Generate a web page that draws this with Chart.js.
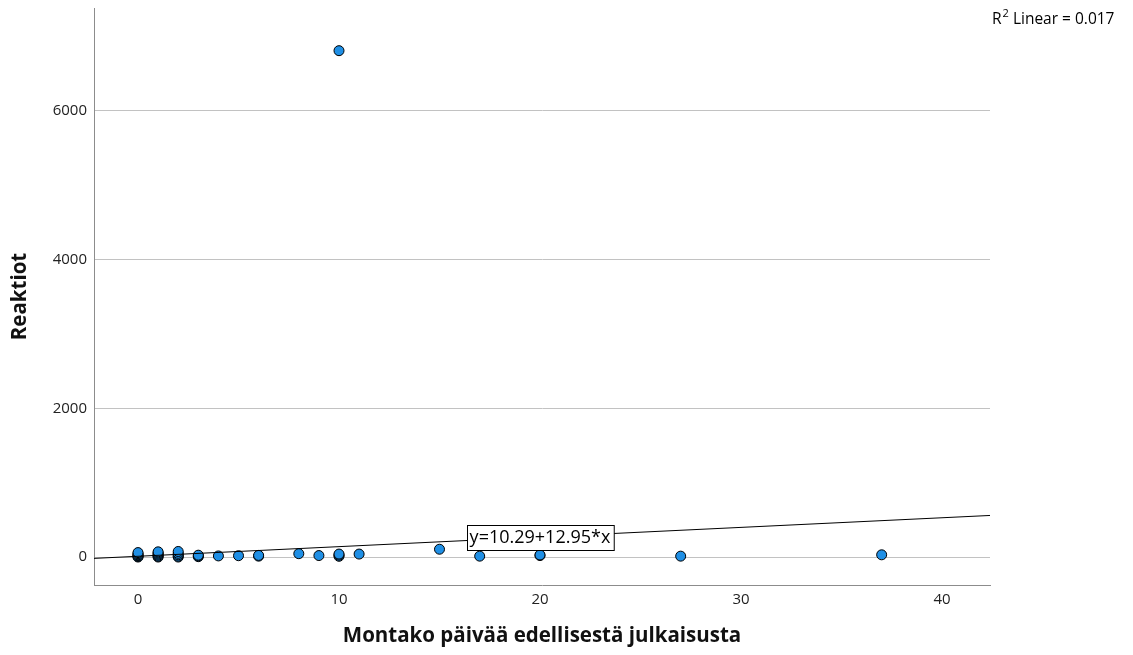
<!DOCTYPE html>
<html>
<head>
<meta charset="utf-8">
<script src="https://cdn.jsdelivr.net/npm/chart.js@4"></script>
<style>
  html, body { margin: 0; padding: 0; background: #ffffff; }
  canvas { display: block; }
</style>
</head>
<body>
<canvas id="chart" width="1133" height="655"></canvas>
<script>
// Days since previous post vs. reactions per post
const days      = [0, 0, 0, 0, 0, 0,  1, 1, 1, 1, 1, 1,  2, 2, 2, 2, 2,  3, 3, 3,  4,  5,  6, 6,  8,  9,  10, 10, 10, 10,  11,  15,  17,  20, 20,  27,  37];
const reactions = [0, 8, 18, 30, 45, 60,  0, 10, 25, 40, 55, 70,  0, 12, 30, 50, 75,  5, 15, 25,  15,  18,  12, 22,  45,  20,  10, 25, 40, 6810,  40,  105,  12,  20, 28,  12,  30];

// Linear fit reported for the data
const fitIntercept = 10.29;
const fitSlope = 12.95;
const rSquared = 0.017;

const xTicks = [0, 10, 20, 30, 40];
const yTicks = [0, 2000, 4000, 6000];
const xRange = [-2.19, 42.39];
const yRange = [-376, 7384];

const xTitle = 'Montako päivää edellisestä julkaisusta';
const yTitle = 'Reaktiot';

const fitAt = x => fitIntercept + fitSlope * x;

const points = days.map((d, i) => ({ x: d, y: reactions[i] }));
const fitLine = xRange.map(x => ({ x: x, y: fitAt(x) }));

const annotations = {
  id: 'fitAnnotations',
  afterDatasetsDraw(chart) {
    const { ctx, scales } = chart;
    // equation box on the fit line
    const label = 'y=' + fitIntercept.toFixed(2) + '+' + fitSlope.toFixed(2) + '*x';
    const cx = scales.x.getPixelForValue(20);
    const cy = scales.y.getPixelForValue(fitAt(20));
    ctx.save();
    ctx.font = '18px "Open Sans", sans-serif';
    const w = ctx.measureText(label).width;
    const boxW = w + 6, boxH = 25;
    const bx = Math.round(cx - boxW / 2) + 0.5, by = Math.round(cy - boxH / 2) + 0.5;
    ctx.fillStyle = '#ffffff';
    ctx.fillRect(bx, by, boxW, boxH);
    ctx.strokeStyle = '#000000';
    ctx.lineWidth = 1;
    ctx.strokeRect(bx, by, boxW, boxH);
    ctx.fillStyle = '#000000';
    ctx.textAlign = 'center';
    ctx.textBaseline = 'middle';
    ctx.fillText(label, cx, cy + 1);

    // R squared note, top right
    ctx.textAlign = 'left';
    ctx.textBaseline = 'alphabetic';
    let x = 992;
    const base = 24;
    ctx.font = '15.5px "Open Sans", sans-serif';
    ctx.fillText('R', x, base);
    x += ctx.measureText('R').width + 1;
    ctx.font = '11px "Open Sans", sans-serif';
    ctx.fillText('2', x, base - 7);
    x += ctx.measureText('2').width;
    ctx.font = '15.5px "Open Sans", sans-serif';
    ctx.fillText(' Linear = ' + rSquared.toFixed(3), x, base);
    ctx.restore();
  }
};

new Chart(document.getElementById('chart'), {
  type: 'scatter',
  data: {
    datasets: [
      {
        label: 'Fit',
        data: fitLine,
        showLine: true,
        borderColor: '#000000',
        borderWidth: 1,
        pointRadius: 0,
        order: 0
      },
      {
        label: 'Reaktiot',
        data: points,
        pointRadius: 5,
        pointBackgroundColor: '#1f8fe5',
        pointBorderColor: '#000000',
        pointBorderWidth: 1,
        order: 1
      }
    ]
  },
  options: {
    responsive: false,
    devicePixelRatio: 1,
    animation: false,
    layout: { padding: { left: 0, right: 143, top: 8, bottom: 0 } },
    plugins: { legend: { display: false }, tooltip: { enabled: false } },
    scales: {
      x: {
        type: 'linear',
        min: xRange[0],
        max: xRange[1],
        afterBuildTicks: s => { s.ticks = xTicks.map(v => ({ value: v })); },
        afterFit: s => { s.height = 70; s.paddingLeft = 0; s.paddingRight = 0; },
        grid: { display: false, drawTicks: false },
        border: { display: true, color: '#8c8c8c', width: 1 },
        ticks: {
          padding: 6, color: '#222222',
          font: { family: '"Open Sans", sans-serif', size: 15 },
          callback: v => String(v)
        },
        title: {
          display: true,
          text: xTitle,
          color: '#111111',
          padding: { top: 0, bottom: 7 },
          font: { family: '"Open Sans", sans-serif', size: 20.5, weight: 'bold' }
        }
      },
      y: {
        type: 'linear',
        min: yRange[0],
        max: yRange[1],
        afterBuildTicks: s => { s.ticks = yTicks.map(v => ({ value: v })); },
        afterFit: s => { s.width = 94; s.paddingTop = 0; s.paddingBottom = 0; },
        grid: { color: '#c2c2c2', lineWidth: 1, drawTicks: false },
        border: { display: true, color: '#8c8c8c', width: 1 },
        ticks: {
          padding: 7, color: '#222222',
          font: { family: '"Open Sans", sans-serif', size: 15 },
          callback: v => String(v)
        },
        title: {
          display: true,
          text: yTitle,
          color: '#111111',
          padding: { top: 8, bottom: 0 },
          font: { family: '"Open Sans", sans-serif', size: 20.5, weight: 'bold' }
        }
      }
    }
  },
  plugins: [annotations]
});
</script>
</body>
</html>
